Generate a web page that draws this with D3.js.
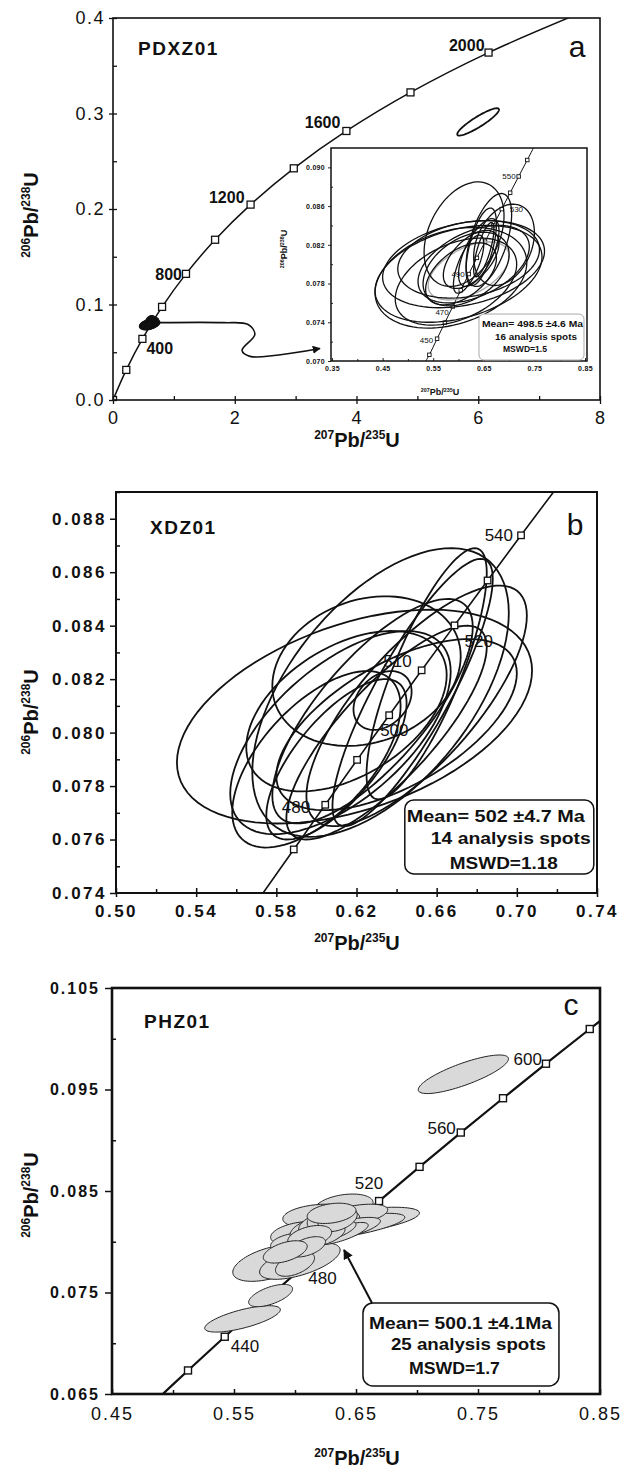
<!DOCTYPE html>
<html>
  <head>
    <meta charset="utf-8">
    <title>U-Pb concordia</title>
    <style>
      body { margin: 0; background: #fff; }
      svg { display: block; font-family: "Liberation Sans", Arial, sans-serif; }
      .frame { fill: none; stroke: #111; }
      .conc { fill: none; stroke: #111; }
      .mark { fill: #fff; stroke: #111; }
      text { fill: #111; }
    </style>
  </head>
  <body>
    <svg width="626" height="1470"></svg>
    <script src="https://d3js.org/d3.v7.min.js"></script>
    <script type="application/javascript">
      // ---- panel a: PDXZ01 ----
      const concAgesA = [0, 200, 400, 600, 800, 1000, 1200, 1400, 1600, 1800, 2000];
      const concXA = [0, 0.218, 0.483, 0.806, 1.199, 1.677, 2.260, 2.970, 3.834, 4.887, 6.169];
      const concYA = [0, 0.0315, 0.0640, 0.0975, 0.1321, 0.1678, 0.2046, 0.2426, 0.2817, 0.3221, 0.3638];
      const concEndA = [7.729, 0.4067];
      const ageLabelsA = [400, 800, 1200, 1600, 2000];
      const xTicksA = [0, 2, 4, 6, 8];
      const yTicksA = [0, 0.1, 0.2, 0.3, 0.4];
      // one discordant spot outside the inset: [x, y, half-width x, half-height y, rho]
      const outlierA = [[5.998, 0.2912, 0.343, 0.0143, 0.90]];
      // arrow from the cluster to the inset
      const arrowA = [[0.77, 0.0810], [1.82, 0.0810], [2.22, 0.0790], [2.33, 0.0686], [2.12, 0.0519], [2.25, 0.0457], [3.40, 0.0540]];

      // inset of panel a
      const concAgesIn = [440, 450, 460, 470, 480, 490, 500, 510, 520, 530, 540, 550, 560];
      const concXIn = [0.5424, 0.5577, 0.5731, 0.5887, 0.6044, 0.6203, 0.6363, 0.6525, 0.6689, 0.6854, 0.7021, 0.7189, 0.7359];
      const concYIn = [0.07064, 0.07230, 0.07397, 0.07563, 0.07730, 0.07898, 0.08065, 0.08233, 0.08401, 0.08569, 0.08738, 0.08906, 0.09076];
      const ageLabelsIn = [450, 470, 490, 530, 550];
      const xTicksIn = [0.35, 0.45, 0.55, 0.65, 0.75, 0.85];
      const yTicksIn = [0.070, 0.074, 0.078, 0.082, 0.086, 0.090];
      const ellIn = [
        [0.611, 0.0831, 0.079, 0.0054, 0.35],
        [0.660, 0.0825, 0.045, 0.0048, 0.55],
        [0.690, 0.0820, 0.060, 0.0042, 0.30],
        [0.645, 0.0818, 0.030, 0.0040, 0.60],
        [0.600, 0.0790, 0.165, 0.0050, 0.35],
        [0.585, 0.0786, 0.150, 0.0052, 0.30],
        [0.610, 0.0800, 0.160, 0.0045, 0.30],
        [0.620, 0.0805, 0.140, 0.0040, 0.25],
        [0.595, 0.0782, 0.120, 0.0045, 0.40],
        [0.630, 0.0800, 0.110, 0.0040, 0.45],
        [0.615, 0.0795, 0.085, 0.0038, 0.40],
        [0.640, 0.0812, 0.040, 0.0035, 0.65],
        [0.625, 0.0805, 0.055, 0.0030, 0.55],
        [0.620, 0.0800, 0.030, 0.0030, 0.70],
        [0.650, 0.0815, 0.020, 0.0028, 0.75],
        [0.605, 0.0790, 0.070, 0.0032, 0.50]
      ];
      const meanIn = [0.620, 0.0793, 0.080, 0.0030, 0.50];
      const statsIn = ["Mean= 498.5 \u00b14.6 Ma", "16 analysis spots", "MSWD=1.5"];

      // ---- panel b: XDZ01 ----
      const concAgesB = [470, 480, 490, 500, 510, 520, 530, 540];
      const concXB = [0.5887, 0.6044, 0.6203, 0.6363, 0.6525, 0.6689, 0.6854, 0.7021];
      const concYB = [0.07563, 0.07730, 0.07898, 0.08065, 0.08233, 0.08401, 0.08569, 0.08738];
      const concEndsB = [[0.5731, 0.07397], [0.7189, 0.08906]];
      const ageLabelsB = [480, 500, 510, 520, 540];
      const xTicksB = [0.50, 0.54, 0.58, 0.62, 0.66, 0.70, 0.74];
      const yTicksB = [0.074, 0.076, 0.078, 0.080, 0.082, 0.084, 0.086, 0.088];
      const ellB = [
        [0.619, 0.0806, 0.0886, 0.0040, 0.43],
        [0.632, 0.0815, 0.064, 0.0054, 0.55],
        [0.655, 0.0822, 0.030, 0.0047, 0.80],
        [0.648, 0.0815, 0.040, 0.0050, 0.85],
        [0.628, 0.0808, 0.050, 0.0042, 0.75],
        [0.612, 0.0800, 0.055, 0.0038, 0.60],
        [0.600, 0.0790, 0.042, 0.0033, 0.60],
        [0.633, 0.0812, 0.0145, 0.0011, 0.30],
        [0.640, 0.0803, 0.060, 0.0032, 0.60],
        [0.635, 0.0800, 0.050, 0.0040, 0.80],
        [0.615, 0.0808, 0.050, 0.0030, 0.45],
        [0.625, 0.0823, 0.047, 0.0028, 0.20],
        [0.650, 0.0810, 0.055, 0.0045, 0.75],
        [0.610, 0.0790, 0.035, 0.0030, 0.70]
      ];
      const statsB = ["Mean= 502 \u00b14.7 Ma", "14 analysis spots", "MSWD=1.18"];

      // ---- panel c: PHZ01 ----
      const concAgesC = [420, 440, 460, 480, 500, 520, 540, 560, 580, 600, 620];
      const concXC = [0.5123, 0.5424, 0.5731, 0.6044, 0.6363, 0.6689, 0.7021, 0.7359, 0.7705, 0.8057, 0.8416];
      const concYC = [0.06732, 0.07064, 0.07397, 0.07730, 0.08065, 0.08401, 0.08738, 0.09076, 0.09414, 0.09754, 0.10096];
      const concEndsC = [[0.4828, 0.0640], [0.8783, 0.1044]];
      const ageLabelsC = [440, 480, 520, 560, 600];
      const xTicksC = [0.45, 0.55, 0.65, 0.75, 0.85];
      const yTicksC = [0.065, 0.075, 0.085, 0.095, 0.105];
      const ellC = [
        [0.738, 0.0965, 0.037, 0.0019, 0.80],
        [0.557, 0.0724, 0.031, 0.0013, 0.70],
        [0.580, 0.0747, 0.018, 0.0011, 0.60],
        [0.650, 0.0820, 0.052, 0.0014, 0.60],
        [0.645, 0.0815, 0.045, 0.0013, 0.70],
        [0.640, 0.0835, 0.024, 0.0012, 0.30],
        [0.648, 0.0826, 0.028, 0.0011, 0.50],
        [0.620, 0.0825, 0.030, 0.0012, 0.20],
        [0.580, 0.0779, 0.031, 0.0018, 0.50],
        [0.604, 0.0781, 0.033, 0.0018, 0.60],
        [0.600, 0.0778, 0.016, 0.0012, 0.50],
        [0.605, 0.0808, 0.025, 0.0012, 0.30],
        [0.600, 0.0799, 0.020, 0.0010, 0.30],
        [0.618, 0.0812, 0.022, 0.0013, 0.40],
        [0.628, 0.0818, 0.025, 0.0014, 0.40],
        [0.640, 0.0812, 0.030, 0.0012, 0.70],
        [0.638, 0.0808, 0.022, 0.0011, 0.75],
        [0.632, 0.0810, 0.018, 0.0010, 0.70],
        [0.626, 0.0806, 0.015, 0.0010, 0.60],
        [0.625, 0.0822, 0.015, 0.0012, 0.30],
        [0.635, 0.0822, 0.016, 0.0012, 0.40],
        [0.630, 0.0828, 0.020, 0.0010, 0.30],
        [0.612, 0.0805, 0.018, 0.0011, 0.40],
        [0.610, 0.0795, 0.015, 0.0010, 0.50],
        [0.592, 0.0790, 0.018, 0.0011, 0.50]
      ];
      const arrowC = [[0.6631, 0.07397], [0.6402, 0.07919]];
      const statsC = ["Mean= 500.1 \u00b14.1Ma", "25 analysis spots", "MSWD=1.7"];

      const svg = d3.select("svg");
      const defs = svg.append("defs");
      defs.append("marker")
        .attr("id", "arrow")
        .attr("viewBox", "0 0 10 10")
        .attr("refX", 9).attr("refY", 5)
        .attr("markerWidth", 5).attr("markerHeight", 5)
        .attr("orient", "auto")
        .append("path").attr("d", "M0,0L10,5L0,10z").attr("fill", "#111");

      function makePanel(id, box, xDom, yDom, xRange) {
        const x = d3.scaleLinear().domain(xDom).range(xRange || [box.left, box.right]);
        const y = d3.scaleLinear().domain(yDom).range([box.bottom, box.top]);
        defs.append("clipPath").attr("id", "clip-" + id)
          .append("rect")
          .attr("x", box.left).attr("y", box.top)
          .attr("width", box.right - box.left).attr("height", box.bottom - box.top);
        const g = svg.append("g");
        const plot = g.append("g").attr("clip-path", `url(#clip-${id})`);
        return {x, y, g, plot, box};
      }

      function ellipsePts(e) {
        const [cx, cy, a, b, rho] = e;
        const k = Math.sqrt(1 - rho * rho);
        return d3.range(90).map(i => {
          const t = 2 * Math.PI * i / 90;
          return [cx + a * Math.cos(t), cy + b * (rho * Math.cos(t) + k * Math.sin(t))];
        });
      }

      function drawEllipses(p, list, style) {
        const line = d3.line().x(d => p.x(d[0])).y(d => p.y(d[1])).curve(d3.curveLinearClosed);
        p.plot.append("g").selectAll("path")
          .data(list)
          .enter()
            .append("path")
            .attr("d", d => line(ellipsePts(d)))
            .attr("fill", style.fill)
            .attr("stroke", style.stroke)
            .attr("stroke-width", style.width);
      }

      function drawConcordia(p, xs, ys, ends, style) {
        const pts = xs.map((v, i) => [v, ys[i]]);
        const all = [ends[0], ...pts, ends[1]].filter(d => d);
        const line = d3.line().x(d => p.x(d[0])).y(d => p.y(d[1])).curve(d3.curveCatmullRom);
        p.plot.append("path")
          .attr("class", "conc")
          .attr("d", line(all))
          .attr("stroke", style.stroke)
          .attr("stroke-width", style.width);
        p.plot.append("g").selectAll("rect")
          .data(pts)
          .enter()
            .append("rect")
            .attr("class", "mark")
            .attr("x", d => p.x(d[0]) - style.size / 2)
            .attr("y", d => p.y(d[1]) - style.size / 2)
            .attr("width", style.size).attr("height", style.size)
            .attr("stroke", style.stroke)
            .attr("stroke-width", style.mw);
        return pts;
      }

      function ageLabels(p, ages, xs, ys, labels, pos, font) {
        p.g.append("g").selectAll("text")
          .data(labels)
          .enter()
            .append("text")
            .attr("x", d => p.x(xs[ages.indexOf(d)]) + pos[d][0])
            .attr("y", d => p.y(ys[ages.indexOf(d)]) + pos[d][1])
            .attr("text-anchor", d => pos[d][2])
            .attr("font-size", font.size)
            .attr("font-weight", font.weight)
            .attr("fill", font.fill || "#111")
            .text(d => d);
      }

      function styleTicks(sel, f) {
        sel.attr("font-size", f.size)
          .attr("font-weight", f.weight)
          .attr("font-family", "Liberation Sans, Arial, sans-serif")
          .style("letter-spacing", f.ls + "px")
          .attr("fill", "#111");
      }

      function axes(p, o) {
        const b = p.box;
        const gx = p.g.append("g").attr("transform", `translate(0,${b.bottom})`);
        gx.call(d3.axisBottom(p.x).tickValues(o.xMajor).tickFormat(o.xFmt)
          .tickSizeOuter(0).tickSize(o.xOut).tickPadding(o.xPad));
        gx.select(".domain").remove();
        gx.selectAll(".tick line").attr("y1", -o.xIn).attr("stroke", "#111").attr("stroke-width", o.tw);
        styleTicks(gx.selectAll(".tick text"), o.xFont);

        const gxm = p.g.append("g").attr("transform", `translate(0,${b.bottom})`);
        gxm.call(d3.axisBottom(p.x).tickValues(o.xMinor).tickFormat("").tickSizeOuter(0).tickSize(o.mOut));
        gxm.select(".domain").remove();
        gxm.selectAll(".tick line").attr("y1", -o.mIn).attr("stroke", "#111").attr("stroke-width", o.tw);

        const gy = p.g.append("g").attr("transform", `translate(${b.left},0)`);
        gy.call(d3.axisLeft(p.y).tickValues(o.yMajor).tickFormat(o.yFmt)
          .tickSizeOuter(0).tickSize(o.yOut).tickPadding(o.yPad));
        gy.select(".domain").remove();
        gy.selectAll(".tick line").attr("x1", o.yIn).attr("stroke", "#111").attr("stroke-width", o.tw);
        styleTicks(gy.selectAll(".tick text"), o.yFont);

        const gym = p.g.append("g").attr("transform", `translate(${b.left},0)`);
        gym.call(d3.axisLeft(p.y).tickValues(o.yMinor).tickFormat("").tickSizeOuter(0).tickSize(o.mOut));
        gym.select(".domain").remove();
        gym.selectAll(".tick line").attr("x1", o.mIn).attr("stroke", "#111").attr("stroke-width", o.tw);

        p.g.append("rect")
          .attr("class", "frame")
          .attr("x", b.left).attr("y", b.top)
          .attr("width", b.right - b.left).attr("height", b.bottom - b.top)
          .attr("stroke-width", o.fw);
      }

      function ratioTitle(x, y, sup1, sup2, size, rotate) {
        const t = svg.append("text")
          .attr("text-anchor", "middle")
          .attr("font-weight", "bold")
          .attr("transform", `translate(${x},${y})` + (rotate ? " rotate(-90)" : ""));
        const s = size * 0.6;
        t.append("tspan").attr("font-size", s).attr("dy", -size * 0.38).text(sup1);
        t.append("tspan").attr("font-size", size).attr("dy", size * 0.38).text("Pb/");
        t.append("tspan").attr("font-size", s).attr("dy", -size * 0.38).text(sup2);
        t.append("tspan").attr("font-size", size).attr("dy", size * 0.38).text("U");
      }

      function statsBox(p, at, w, h, rx, lines, font, stroke) {
        const x0 = p.x(at[0]);
        const y0 = p.y(at[1]);
        p.g.append("rect")
          .attr("x", x0).attr("y", y0).attr("width", w).attr("height", h)
          .attr("rx", rx).attr("fill", "#fff")
          .attr("stroke", stroke).attr("stroke-width", font.sw);
        p.g.append("g").selectAll("text")
          .data(lines)
          .enter()
            .append("text")
            .attr("x", (d, i) => x0 + font.xs[i])
            .attr("y", (d, i) => y0 + font.ys[i])
            .attr("textLength", (d, i) => font.ws[i])
            .attr("lengthAdjust", "spacingAndGlyphs")
            .attr("font-size", font.size)
            .attr("font-weight", "bold")
            .text(d => d);
      }

      const fmt = f => d3.format(f);

      // ================= panel a =================
      const pa = makePanel("a", {left: 113, right: 600, top: 18, bottom: 400}, [0, 8], [0, 0.4]);
      drawConcordia(pa, concXA, concYA, [null, concEndA], {stroke: "#111", width: 1.5, size: 7, mw: 1.3});
      drawEllipses(pa, outlierA, {fill: "none", stroke: "#111", width: 1.8});
      drawEllipses(pa, ellIn, {fill: "#111", stroke: "#111", width: 1.2});
      const arrowLine = d3.line().x(d => pa.x(d[0])).y(d => pa.y(d[1])).curve(d3.curveCatmullRom);
      pa.g.append("path")
        .attr("d", arrowLine(arrowA))
        .attr("fill", "none").attr("stroke", "#111").attr("stroke-width", 1.6)
        .attr("marker-end", "url(#arrow)");
      ageLabels(pa, concAgesA, concXA, concYA, ageLabelsA, {
        400: [4, 15, "start"], 800: [-4, 6, "end"], 1200: [-6, -2, "end"],
        1600: [-6, -3, "end"], 2000: [-4, -2, "end"]
      }, {size: 16, weight: "bold"});
      axes(pa, {
        xMajor: xTicksA, xMinor: [1, 3, 5, 7], xFmt: fmt("d"),
        yMajor: yTicksA, yMinor: [0.05, 0.15, 0.25, 0.35], yFmt: fmt(".1f"),
        xIn: 4, xOut: 4, xPad: 7, yIn: 4, yOut: 4, yPad: 4, mIn: 4, mOut: 0, tw: 1.3, fw: 1.6,
        xFont: {size: 18, weight: "normal", ls: 1}, yFont: {size: 18, weight: "normal", ls: 1.5}
      });
      svg.append("text").attr("x", 138).attr("y", 55).attr("font-size", 19)
        .attr("font-weight", "bold").style("letter-spacing", "1.5px").text("PDXZ01");
      svg.append("text").attr("x", 577).attr("y", 57).attr("font-size", 30)
        .attr("text-anchor", "middle").text("a");
      ratioTitle(357, 447, "207", "235", 20, false);
      ratioTitle(38, 215, "206", "238", 20, true);

      // inset
      const pin = makePanel("in", {left: 331, right: 587, top: 148, bottom: 361}, [0.35, 0.85], [0.070, 0.092], [332, 585]);
      pin.g.insert("rect", ":first-child")
        .attr("x", 331).attr("y", 148).attr("width", 256).attr("height", 213).attr("fill", "#fff");
      drawConcordia(pin, concXIn, concYIn, [[0.5355, 0.0700], [0.7530, 0.0925]], {stroke: "#999", width: 1, size: 3.5, mw: 0.9});
      drawEllipses(pin, [meanIn], {fill: "none", stroke: "#aaa", width: 1.3});
      drawEllipses(pin, ellIn, {fill: "none", stroke: "#111", width: 1.3});
      ageLabels(pin, concAgesIn, concXIn, concYIn, ageLabelsIn, {
        450: [-4, 4, "end"], 470: [-4, 9, "end"], 490: [-4, 3, "end"],
        530: [8, 3, "start"], 550: [-3, 3, "end"]
      }, {size: 8, weight: "normal", fill: "#333"});
      axes(pin, {
        xMajor: xTicksIn, xMinor: [0.40, 0.50, 0.60, 0.70, 0.80], xFmt: fmt(".2f"),
        yMajor: yTicksIn, yMinor: [0.072, 0.076, 0.080, 0.084, 0.088], yFmt: fmt(".3f"),
        xIn: 3, xOut: 0, xPad: 5, yIn: 0, yOut: 3, yPad: 3, mIn: 2, mOut: 0, tw: 0.9, fw: 1.5,
        xFont: {size: 7, weight: "bold", ls: 0.3}, yFont: {size: 7, weight: "bold", ls: 0.3}
      });
      statsBox(pin, [0.6405, 0.07485], 105, 46, 5, statsIn,
        {size: 8.5, sw: 1, xs: [3, 16, 24], ys: [13, 26, 38], ws: [101, 82, 44]}, "#aaa");
      ratioTitle(440, 395, "207", "235", 9, false);
      ratioTitle(287, 249, "206", "238", 9, true);

      // ================= panel b =================
      const pb = makePanel("b", {left: 116, right: 597, top: 492, bottom: 893}, [0.50, 0.74], [0.074, 0.089]);
      drawEllipses(pb, ellB, {fill: "none", stroke: "#111", width: 1.8});
      drawConcordia(pb, concXB, concYB, concEndsB, {stroke: "#111", width: 1.6, size: 6.5, mw: 1.3});
      ageLabels(pb, concAgesB, concXB, concYB, ageLabelsB, {
        480: [-15, 8, "end"], 500: [-9, 21, "start"], 510: [-10, -3, "end"],
        520: [10, 22, "start"], 540: [-8, 6, "end"]
      }, {size: 17, weight: "normal"});
      axes(pb, {
        xMajor: xTicksB, xMinor: [0.52, 0.56, 0.60, 0.64, 0.68, 0.72], xFmt: fmt(".2f"),
        yMajor: yTicksB, yMinor: [0.075, 0.077, 0.079, 0.081, 0.083, 0.085, 0.087, 0.089], yFmt: fmt(".3f"),
        xIn: 5, xOut: 4, xPad: 8, yIn: 0, yOut: 6, yPad: 3, mIn: 4, mOut: 0, tw: 1.5, fw: 2,
        xFont: {size: 17, weight: "bold", ls: 2.5}, yFont: {size: 17, weight: "bold", ls: 2.5}
      });
      statsBox(pb, [0.6441, 0.07748], 189, 74, 9, statsB,
        {size: 17, sw: 1.5, xs: [2, 26, 45], ys: [22, 44, 69], ws: [178, 160, 108]}, "#111");
      svg.append("text").attr("x", 150).attr("y", 534).attr("font-size", 19)
        .attr("font-weight", "bold").style("letter-spacing", "1.5px").text("XDZ01");
      svg.append("text").attr("x", 575).attr("y", 535).attr("font-size", 30)
        .attr("text-anchor", "middle").text("b");
      ratioTitle(357, 950, "207", "235", 20, false);
      ratioTitle(38, 712, "206", "238", 20, true);

      // ================= panel c =================
      const pc = makePanel("c", {left: 112, right: 600, top: 988, bottom: 1394}, [0.45, 0.85], [0.065, 0.105]);
      drawConcordia(pc, concXC, concYC, concEndsC, {stroke: "#111", width: 2.2, size: 7, mw: 1.4});
      drawEllipses(pc, ellC, {fill: "#d9d9d9", stroke: "#222", width: 1});
      ageLabels(pc, concAgesC, concXC, concYC, ageLabelsC, {
        440: [6, 15, "start"], 480: [8, 15, "start"], 520: [-10, -12, "middle"],
        560: [-5, 1, "end"], 600: [-4, 1, "end"]
      }, {size: 17, weight: "normal"});
      pc.g.append("path")
        .attr("d", d3.line().x(d => pc.x(d[0])).y(d => pc.y(d[1])).curve(d3.curveLinear)(arrowC))
        .attr("stroke", "#111").attr("stroke-width", 2)
        .attr("marker-end", "url(#arrow)");
      axes(pc, {
        xMajor: xTicksC, xMinor: [0.50, 0.60, 0.70, 0.80], xFmt: fmt(".2f"),
        yMajor: yTicksC, yMinor: [0.070, 0.080, 0.090, 0.100], yFmt: fmt(".3f"),
        xIn: 5, xOut: 0, xPad: 13, yIn: 0, yOut: 7, yPad: 5, mIn: 4, mOut: 0, tw: 1.5, fw: 2.6,
        xFont: {size: 18, weight: "normal", ls: 2}, yFont: {size: 16, weight: "bold", ls: 2}
      });
      statsBox(pc, [0.6557, 0.07397], 196, 83, 10, statsC,
        {size: 17, sw: 1.5, xs: [6, 28, 46], ys: [26, 47, 71], ws: [183, 155, 91]}, "#111");
      svg.append("text").attr("x", 144).attr("y", 1028).attr("font-size", 19)
        .attr("font-weight", "bold").style("letter-spacing", "1.5px").text("PHZ01");
      svg.append("text").attr("x", 571).attr("y", 1015).attr("font-size", 30)
        .attr("text-anchor", "middle").text("c");
      ratioTitle(357, 1465, "207", "235", 20, false);
      ratioTitle(38, 1195, "206", "238", 20, true);
    </script>
  </body>
</html>
